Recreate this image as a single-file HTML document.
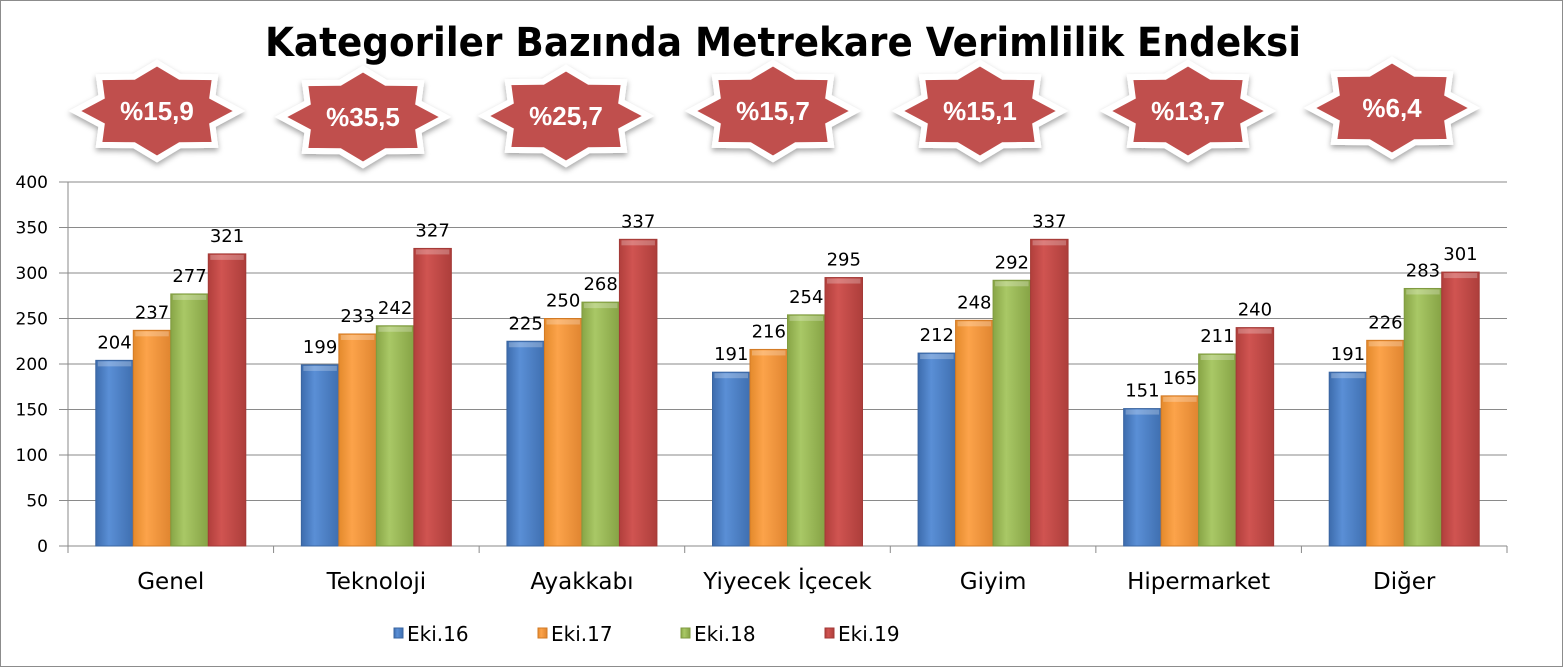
<!DOCTYPE html>
<html><head><meta charset="utf-8"><style>
html,body{margin:0;padding:0;background:#fff}
svg{display:block}
</style></head><body>
<svg id="s" width="1563" height="667" xmlns="http://www.w3.org/2000/svg" font-family="'DejaVu Sans','Liberation Sans',sans-serif">
<defs>
<linearGradient id="gb" x1="0" x2="1"><stop offset="0" stop-color="#3d6cad"/><stop offset="0.35" stop-color="#5a8fd6"/><stop offset="1" stop-color="#3f6fb0"/></linearGradient>
<linearGradient id="go" x1="0" x2="1"><stop offset="0" stop-color="#e48a2c"/><stop offset="0.35" stop-color="#fca34a"/><stop offset="1" stop-color="#e08530"/></linearGradient>
<linearGradient id="gg" x1="0" x2="1"><stop offset="0" stop-color="#88a546"/><stop offset="0.35" stop-color="#a9c866"/><stop offset="1" stop-color="#86a345"/></linearGradient>
<linearGradient id="gr" x1="0" x2="1"><stop offset="0" stop-color="#b13f3c"/><stop offset="0.35" stop-color="#d05451"/><stop offset="1" stop-color="#ad3e3b"/></linearGradient>
<filter id="sh" x="-20%" y="-20%" width="140%" height="150%"><feDropShadow dx="0" dy="3" stdDeviation="3" flood-color="#000" flood-opacity="0.35"/></filter>
</defs>
<rect x="0.5" y="0.5" width="1562" height="666" fill="#fff" stroke="#8c8c8c" stroke-width="1"/>
<text x="783" y="56" text-anchor="middle" font-size="40" font-weight="bold" font-family="'DejaVu Sans',sans-serif" fill="#000" textLength="1036" lengthAdjust="spacingAndGlyphs">Kategoriler Bazında Metrekare Verimlilik Endeksi</text>
<g id="g"></g>
</svg>
<script>
var g=document.getElementById('g'),h='';
var stars=[[157,111,'%15,9'],[363,117,'%35,5'],[566,116,'%25,7'],[773,111,'%15,7'],[980,111,'%15,1'],[1188,111,'%13,7'],[1392,108,'%6,4']];
stars.forEach(function(s){
 var p=[];for(var i=0;i<16;i++){var a=i*Math.PI/8,o=i%2==0;var rx=o?82:60,ry=o?48:37;p.push((s[0]+rx*Math.cos(a)).toFixed(1)+','+(s[1]+ry*Math.sin(a)).toFixed(1));}
 h+='<polygon points="'+p.join(' ')+'" fill="#c0504d" stroke="#fff" stroke-width="6" stroke-linejoin="miter" filter="url(#sh)"/>';
 h+='<text x="'+s[0]+'" y="'+(s[1]+9)+'" text-anchor="middle" font-size="26" font-weight="bold" fill="#fff" font-family="\'Liberation Sans\',sans-serif">'+s[2]+'</text>';
});
var y0=546,k=0.91,L=68,R=1507;
for(var v=0;v<=400;v+=50){var y=y0-v*k;h+='<line x1="59" x2="'+R+'" y1="'+y+'" y2="'+y+'" stroke="#8a8a8a" stroke-width="1"/>';
 h+='<text x="48" y="'+(y+6)+'" text-anchor="end" font-size="17" fill="#000">'+v+'</text>';}
h+='<line x1="'+L+'" x2="'+L+'" y1="182" y2="546" stroke="#8a8a8a"/>';
for(var i=0;i<=7;i++){var x=L+i*(R-L)/7;h+='<line x1="'+x+'" x2="'+x+'" y1="546" y2="553" stroke="#8a8a8a"/>';}
var cats=['Genel','Teknoloji','Ayakkabı','Yiyecek İçecek','Giyim','Hipermarket','Diğer'];
var d=[[204,237,277,321],[199,233,242,327],[225,250,268,337],[191,216,254,295],[212,248,292,337],[151,165,211,240],[191,226,283,301]];
var gr=['gb','go','gg','gr'],st=['#3a65a0','#d27a25','#7f9a40','#a33a37'];
var gw=(R-L)/7,bw=37.5;
d.forEach(function(r,ci){var c=L+gw*(ci+0.5);
 r.forEach(function(v,j){var x=c-75+j*bw,y=y0-v*k;
  h+='<rect x="'+x+'" y="'+y+'" width="'+bw+'" height="'+(v*k)+'" fill="url(#'+gr[j]+')" stroke="'+st[j]+'" stroke-width="1"/>';
  h+='<rect x="'+(x+2)+'" y="'+(y+1)+'" width="'+(bw-4)+'" height="5" fill="#fff" opacity="0.25"/>';
  h+='<text x="'+(x+bw/2)+'" y="'+(y-12)+'" text-anchor="middle" font-size="18" fill="#000">'+v+'</text>';});
 h+='<text x="'+c+'" y="589" text-anchor="middle" font-size="23" fill="#000">'+cats[ci]+'</text>';
});
var lg=[[394,'Eki.16'],[538,'Eki.17'],[681,'Eki.18'],[825,'Eki.19']];
lg.forEach(function(l,j){h+='<rect x="'+(l[0])+'" y="628" width="9" height="10" fill="url(#'+gr[j]+')" stroke="'+st[j]+'"/>';
 h+='<text x="'+(l[0]+13)+'" y="641" font-size="20" fill="#000">'+l[1]+'</text>';});
g.innerHTML=h;
</script>
</body></html>
